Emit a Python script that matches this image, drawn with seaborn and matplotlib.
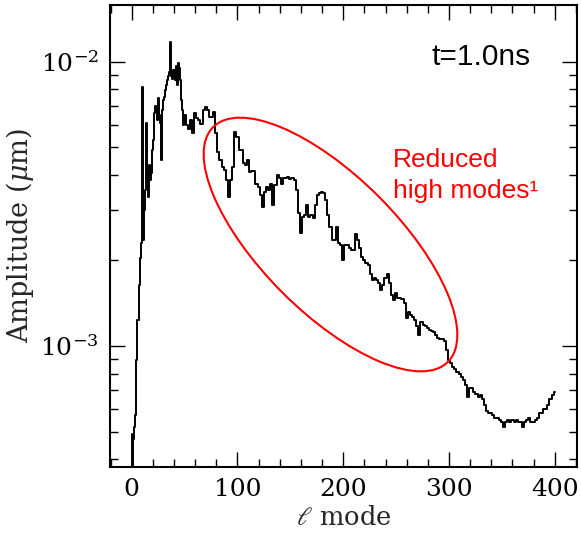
import matplotlib
matplotlib.use("Agg")
import matplotlib.pyplot as plt
import seaborn as sns
import pandas as pd
from matplotlib.patches import Ellipse
from matplotlib.ticker import LogLocator, NullFormatter, MultipleLocator

# ---- data ----
modes_low = list(range(0, 50))
amp_low = [0.00049, 0.00030, 0.00047, 0.00052, 0.00057, 0.00089, 0.00123, 0.00164, 0.00204, 0.00230,
           0.00815, 0.00236, 0.00301, 0.00354, 0.00610, 0.00400, 0.00334, 0.00433, 0.00384, 0.00406,
           0.00489, 0.00530, 0.00660, 0.00700, 0.00624, 0.00745, 0.00650, 0.00610, 0.00451, 0.00676,
           0.00733, 0.00750, 0.00795, 0.00830, 0.00860, 0.00895, 0.00920, 0.01170, 0.00895, 0.00870,
           0.00935, 0.00860, 0.00970, 0.00830, 0.00990, 0.00950, 0.00860, 0.00733, 0.00676, 0.00600]

modes_high = list(range(50, 401, 2))
amp_high = [0.00649, 0.00599, 0.00580, 0.00624, 0.00561, 0.00660, 0.00634, 0.00624, 0.00604, 0.00676,
            0.00693, 0.00676, 0.00639, 0.00639, 0.00665, 0.00561, 0.00481, 0.00451, 0.00425, 0.00416,
            0.00384, 0.00334, 0.00384, 0.00425, 0.00566, 0.00543, 0.00489, 0.00489, 0.00440, 0.00433,
            0.00451, 0.00410, 0.00413, 0.00413, 0.00371, 0.00362, 0.00340, 0.00308, 0.00347, 0.00364,
            0.00354, 0.00371, 0.00313, 0.00368, 0.00400, 0.00390, 0.00371, 0.00390, 0.00390, 0.00393,
            0.00387, 0.00390, 0.00384, 0.00354, 0.00294, 0.00250, 0.00284, 0.00289, 0.00313, 0.00284,
            0.00289, 0.00282, 0.00313, 0.00340, 0.00345, 0.00348, 0.00345, 0.00326, 0.00289, 0.00262,
            0.00236, 0.00236, 0.00262, 0.00230, 0.00227, 0.00201, 0.00227, 0.00227, 0.00221, 0.00218,
            0.00218, 0.00248, 0.00236, 0.00221, 0.00206, 0.00201, 0.00196, 0.00193, 0.00179, 0.00171,
            0.00174, 0.00171, 0.00167, 0.00157, 0.00164, 0.00173, 0.00179, 0.00167, 0.00151, 0.00145,
            0.00153, 0.00148, 0.00148, 0.00146, 0.00142, 0.00125, 0.00132, 0.00129, 0.00126, 0.00123,
            0.00118, 0.00109, 0.00121, 0.00119, 0.00118, 0.00116, 0.00114, 0.00113, 0.00112, 0.00109,
            0.00107, 0.00106, 0.00106, 0.00104, 0.00097, 0.00089, 0.00087, 0.00084, 0.00083, 0.00081,
            0.00080, 0.00078, 0.00076, 0.00073, 0.00066, 0.00071, 0.00071, 0.00069, 0.00068, 0.00066,
            0.00067, 0.00065, 0.00062, 0.00059, 0.00058, 0.00058, 0.00057, 0.00056, 0.00056, 0.00055,
            0.00054, 0.00052, 0.00054, 0.00055, 0.00054, 0.00055, 0.00054, 0.00055, 0.00054, 0.00054,
            0.00052, 0.00054, 0.00055, 0.00056, 0.00054, 0.00054, 0.00055, 0.00056, 0.00058, 0.00058,
            0.00060, 0.00060, 0.00062, 0.00065, 0.00067, 0.00069]

x_ticks = [0, 100, 200, 300, 400]
time_label = "t=1.0ns"
note_lines = ["Reduced", "high modes\u00b9"]

# ---- style ----
sns.set_style("ticks")
plt.rcParams["font.family"] = ["DejaVu Serif"]
plt.rcParams["mathtext.fontset"] = "dejavuserif"

df = pd.DataFrame({"mode": modes_low + modes_high, "amp": amp_low + amp_high})

fig = plt.figure(figsize=(5.81, 5.36), dpi=100)
ax = fig.add_axes([0.1893, 0.1287, 0.8038, 0.8620])

sns.lineplot(data=df, x="mode", y="amp", ax=ax, color="black", lw=1.4,
             drawstyle="steps-mid", estimator=None)

ax.set_yscale("log")
ax.set_xlim(-20.5, 421)
ax.set_ylim(3.75e-4, 1.585e-2)

ax.set_xticks(x_ticks)
ax.xaxis.set_minor_locator(MultipleLocator(20))
ax.yaxis.set_major_locator(LogLocator(base=10))
ax.yaxis.set_minor_locator(LogLocator(base=10, subs=range(2, 10)))
ax.yaxis.set_minor_formatter(NullFormatter())

ax.tick_params(which="both", direction="in", top=True, right=True,
               labelsize=18, colors="black")
ax.tick_params(which="major", length=11, width=1.0, pad=8)
ax.tick_params(which="minor", length=6, width=1.0)
for s in ax.spines.values():
    s.set_linewidth(1.5)
    s.set_color("black")

ax.set_xlabel(r"$\ell$ mode", fontsize=18.5, labelpad=3)
ax.set_ylabel(r"Amplitude ($\mu$m)", fontsize=19.5, labelpad=3)

# red ellipse (drawn in figure inches so it keeps its shape)
ell = Ellipse((3.305, 2.915), width=3.32, height=1.36, angle=-45,
              transform=fig.dpi_scale_trans, fill=False, edgecolor="#ff0000",
              lw=1.5, clip_on=False)
fig.add_artist(ell)

fig.text(431.7 / 581, 1 - 65 / 536, time_label, fontsize=21.5, family="Liberation Sans",
         color="black", ha="left", va="baseline")
fig.text(393 / 581, 1 - 166.7 / 536, note_lines[0], fontsize=19, family="Liberation Sans",
         color="#ff0000", ha="left", va="baseline")
fig.text(393 / 581, 1 - 198.5 / 536, note_lines[1], fontsize=19, family="Liberation Sans",
         color="#ff0000", ha="left", va="baseline")

fig.savefig("out.png", dpi=100)
